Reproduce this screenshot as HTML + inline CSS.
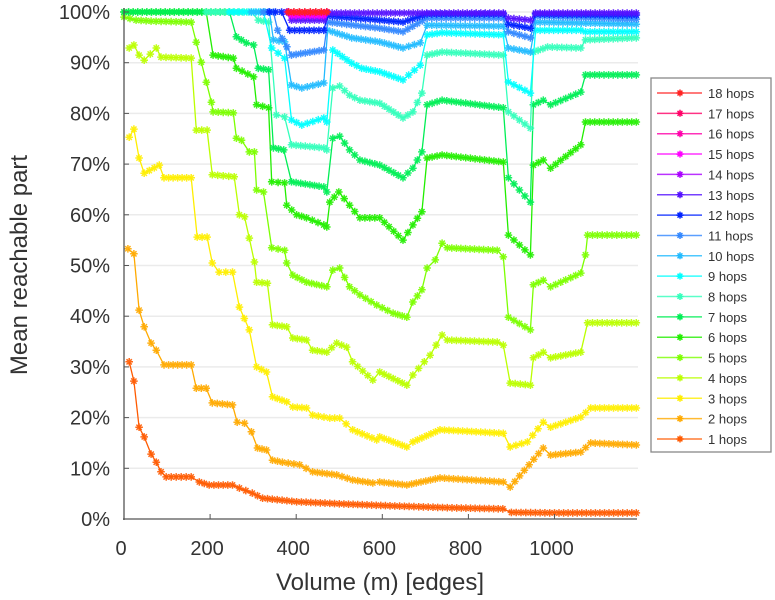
<!DOCTYPE html>
<html><head><meta charset="utf-8"><style>
body{margin:0;background:#fff;}
svg{display:block;font-family:"Liberation Sans",sans-serif;}
</style></head><body>
<svg id="chart" width="775" height="600" viewBox="0 0 775 600">
<g id="grid"></g>
<g id="series"></g>
<g id="axes"></g>
<text x="380" y="590" text-anchor="middle" font-size="24" fill="#333">Volume (m) [edges]</text>
<text transform="translate(27,265) rotate(-90)" text-anchor="middle" font-size="24" fill="#333">Mean reachable part</text>
<g id="legend"></g>
</svg>
<script>
const labels=["1 hops","2 hops","3 hops","4 hops","5 hops","6 hops","7 hops","8 hops","9 hops","10 hops","11 hops","12 hops","13 hops","14 hops","15 hops","16 hops","17 hops","18 hops"];
const colors=["#ff5a00","#ffaa00","#ffee00","#bbff00","#7cff00","#22ee00","#00ee55","#33ffbb","#00ffff","#22bbff","#3388ff","#0022ff","#5511ff","#aa00ff","#ff00ff","#ff00aa","#ff0066","#ff2222"];
const xTicks=[0,200,400,600,800,1000];
const yTicks=[0,10,20,30,40,50,60,70,80,90,100];
const s1x=[12,23,35,47,63,75,86,98,156,175,198,252,268,298,322,401,500,618,762,880,900,1000,1190];
const s1y=[31,27.2,18.1,16.2,12.8,11.2,9.3,8.3,8.3,7.3,6.7,6.7,6.1,5.1,4.1,3.4,3.0,2.6,2.2,2.0,1.3,1.2,1.2];
const s2x=[9,23,35,47,63,75,93,156,168,191,205,252,263,280,296,310,331,345,368,408,438,494,531,578,594,657,734,881,897,974,991,1061,1084,1190];
const s2y=[53.3,52.3,41.2,37.9,34.7,33.3,30.4,30.4,25.8,25.8,22.9,22.5,19.1,18.9,17.2,14.0,13.6,11.6,11.2,10.7,9.3,8.7,7.7,7.1,7.3,6.7,8.1,7.3,6.3,14.0,12.6,13.2,15.0,14.6];
const s3x=[12,23,35,47,82,93,156,170,193,205,221,252,268,291,308,331,345,378,392,424,438,478,501,531,587,594,657,671,734,881,897,937,974,991,1061,1084,1190];
const s3y=[75.3,76.9,71.2,68.2,69.8,67.3,67.3,55.6,55.6,50.5,48.7,48.7,41.8,37.3,30.0,29.0,24.1,23.1,22.1,21.9,20.5,19.9,19.9,17.6,15.6,16.2,14.2,15.2,17.6,16.9,14.2,15.2,19.1,18.1,20.1,21.9,21.9];
const s4x=[12,23,35,47,75,86,156,168,193,205,256,268,280,291,303,308,333,345,378,392,424,438,471,494,517,531,578,594,657,671,711,739,751,867,881,897,944,951,974,991,1061,1077,1190];
const s4y=[92.9,93.5,91.5,90.5,92.9,91.1,90.9,76.7,76.7,67.9,67.5,60.0,59.6,55.4,50.7,46.7,46.5,38.3,37.9,35.7,35.3,33.3,32.9,34.7,33.9,31.0,27.4,29.0,26.4,28.4,32.3,36.3,35.3,34.9,34.3,26.8,26.4,31.8,32.9,31.8,32.9,38.7,38.7];
const s5x=[0,28,63,156,203,207,254,261,273,291,303,308,324,343,373,378,392,424,471,485,501,524,548,587,625,657,671,692,704,723,739,751,867,881,893,944,951,974,991,1061,1072,1077,1190];
const s5y=[99,98.4,98.2,98,82.2,80.3,80.1,75.1,74.7,72.4,72.4,64.9,64.5,53.5,53.0,50.5,48.1,46.7,45.8,49.1,49.5,45.8,44.2,42.2,40.6,39.8,42.8,45.2,49.5,51.1,54.4,53.5,53.0,51.7,39.8,37.3,46.2,47.1,45.8,48.5,52.1,56.0,56.0];
const s6x=[0,191,207,254,261,301,308,336,343,373,378,401,424,464,471,478,499,524,548,594,648,671,692,704,739,881,893,944,951,974,991,1061,1072,1190];
const s6y=[100,100,91.5,90.9,88.9,87.2,81.7,81.1,66.5,66.3,61.9,60.0,59.4,58.0,57.6,62.5,64.5,61.9,59.4,59.4,55.0,58.0,60.6,71.2,71.8,70.4,56.0,52.1,69.8,70.8,69.2,73.8,78.3,78.3];
const s7x=[0,245,261,284,301,312,336,347,371,389,464,471,485,501,524,548,594,648,671,692,704,739,881,893,944,951,974,991,1061,1072,1190];
const s7y=[100,100,95.1,93.9,93.5,88.9,88.6,73.2,72.8,66.5,65.5,64.5,75.1,75.5,72.8,70.8,69.8,67.3,69.2,72.4,81.7,82.6,81.1,67.3,62.5,81.7,82.6,81.7,84.2,87.6,87.6];
const s8x=[191,296,312,336,354,373,389,464,471,485,501,524,548,594,648,671,692,704,739,881,893,944,951,984,1061,1072,1190];
const s8y=[100,100,98.4,98.0,79.7,79.3,73.8,73.2,72.8,85.0,85.4,83.6,82.6,82.0,79.1,80.3,84.0,91.5,92.1,91.5,80.3,77.1,92.1,93.1,92.9,94.5,94.9];
const s9x=[245,324,343,373,389,413,464,471,485,529,552,594,648,688,704,739,881,893,944,956,1061,1072,1190];
const s9y=[100,100,92.9,90.9,78.7,77.7,79.1,78.3,92.5,89.9,88.9,88.2,86.6,89.5,95.5,95.9,95.5,86.2,84.0,96.4,96.4,96.1,96.1];
const s10x=[296,338,347,373,389,413,464,473,529,594,648,688,704,881,893,944,956,1190];
const s10y=[100,100,94.5,94.1,85.6,85.0,86.0,96.4,94.9,94.1,92.9,93.9,97.4,97.2,92.9,92.1,98.0,97.6];
const s11x=[324,347,357,389,464,473,594,648,704,881,893,944,956,1190];
const s11y=[100,100,96.4,91.5,92.5,98.0,96.8,96.1,98.8,98.8,96.1,94.9,99.2,98.6];
const s12x=[338,366,385,464,473,594,648,704,881,893,944,956,1190];
const s12y=[100,100,96.4,96.4,99.2,98.4,98.0,99.6,99.6,97.6,96.8,99.6,99.4];
const s13x=[378,389,464,473,881,893,944,956,1190];
const s13y=[100,98.4,98.4,99.8,99.8,98.8,98.4,99.8,99.8];
const s14x=[382,389,464,471];
const s14y=[100,99.2,99.2,100];
const s15x=[382,389,464,471];
const s15y=[100,99.4,99.4,100];
const s16x=[382,389,464,471];
const s16y=[100,99.8,99.8,100];
const s17x=[382,420,471];
const s17y=[100,100,100];
const s18x=[382,420,471];
const s18y=[100,100,100];
const seriesX=[s1x,s2x,s3x,s4x,s5x,s6x,s7x,s8x,s9x,s10x,s11x,s12x,s13x,s14x,s15x,s16x,s17x,s18x];
const seriesY=[s1y,s2y,s3y,s4y,s5y,s6y,s7y,s8y,s9y,s10y,s11y,s12y,s13y,s14y,s15y,s16y,s17y,s18y];

const NS="http://www.w3.org/2000/svg";
const X0=124,XS=0.4305,Y0=519,YS=5.07;
function sx(v){return X0+v*XS;}
function sy(v){return Y0-v*YS;}
function mk(tag,attrs,parent){const e=document.createElementNS(NS,tag);for(const k in attrs)e.setAttribute(k,attrs[k]);parent.appendChild(e);return e;}
function star(x,y,r){return `M${(x-r).toFixed(1)},${y.toFixed(1)}h${2*r}M${x.toFixed(1)},${(y-r).toFixed(1)}v${2*r}M${(x-r*0.7).toFixed(1)},${(y-r*0.7).toFixed(1)}l${1.4*r},${1.4*r}M${(x-r*0.7).toFixed(1)},${(y+r*0.7).toFixed(1)}l${1.4*r},${-1.4*r}`;}

const grid=document.getElementById('grid');
yTicks.forEach(t=>{
  if(t===0)return;
  const l=mk('line',{x1:X0,x2:638,y1:sy(t),y2:sy(t),stroke:'#ebebeb','stroke-width':1.5},grid);
  
  
});

const sg=document.getElementById('series');
seriesX.forEach((xs,i)=>{
  const ys=seriesY[i];
  const g=mk('g',{},sg);
  
  
  let d='';
  xs.forEach((v,j)=>{d+=(j?'L':'M')+sx(v).toFixed(1)+','+sy(ys[j]).toFixed(1);});
  const p=mk('path',{d:d,fill:'none',stroke:colors[i],'stroke-width':1.3,'stroke-linejoin':'round'},g);
  
  
  let md='';
  for(let j=0;j<xs.length;j++){
    const px=sx(xs[j]),py=sy(ys[j]);
    md+=star(px,py,3.8);
    if(j<xs.length-1){
      const qx=sx(xs[j+1]),qy=sy(ys[j+1]);
      const n=Math.floor((qx-px)/4.5);
      for(let k=1;k<n;k++){const t=k/n;md+=star(px+(qx-px)*t,py+(qy-py)*t,3.8);}
    }
  }
  const m=mk('path',{d:md,fill:'none',stroke:colors[i],'stroke-width':1.5,opacity:0.9},g);
  
  
});

const ax=document.getElementById('axes');
const ya=mk('line',{x1:X0,x2:X0,y1:8,y2:520,stroke:'#555','stroke-width':1.3},ax);


const xa=mk('line',{x1:X0-1,x2:637,y1:Y0,y2:Y0,stroke:'#555','stroke-width':1.3},ax);


xTicks.forEach(t=>{
  const tk=mk('line',{x1:sx(t),x2:sx(t),y1:Y0,y2:Y0-5,stroke:'#555'},ax);
  
  
  const tx=mk('text',{x:sx(t)-3,y:555,'text-anchor':'middle','font-size':20,fill:'#333'},ax);
  tx.textContent=t;
  
  
});
yTicks.forEach(t=>{
  const tk=mk('line',{x1:X0,x2:X0+5,y1:sy(t),y2:sy(t),stroke:'#555'},ax);
  
  
  const tx=mk('text',{x:110,y:sy(t)+7,'text-anchor':'end','font-size':20,fill:'#333'},ax);
  tx.textContent=t+'%';
  
  
});

const lg=document.getElementById('legend');
const box=mk('rect',{x:651,y:78,width:120,height:374,fill:'#fff',stroke:'#888','stroke-width':1.3},lg);


for(let k=0;k<18;k++){
  const i=17-k;
  const y=93+k*20.35;
  const g=mk('g',{},lg);
  
  
  mk('line',{x1:657,x2:702,y1:y,y2:y,stroke:colors[i],'stroke-width':1.5,opacity:0.8},g);
  mk('path',{d:star(680,y,3.5),stroke:colors[i],'stroke-width':1.5,fill:'none'},g);
  const t=mk('text',{x:708,y:y+5,'font-size':13,fill:'#333'},g);
  t.textContent=labels[i];
}
</script>
</body></html>
